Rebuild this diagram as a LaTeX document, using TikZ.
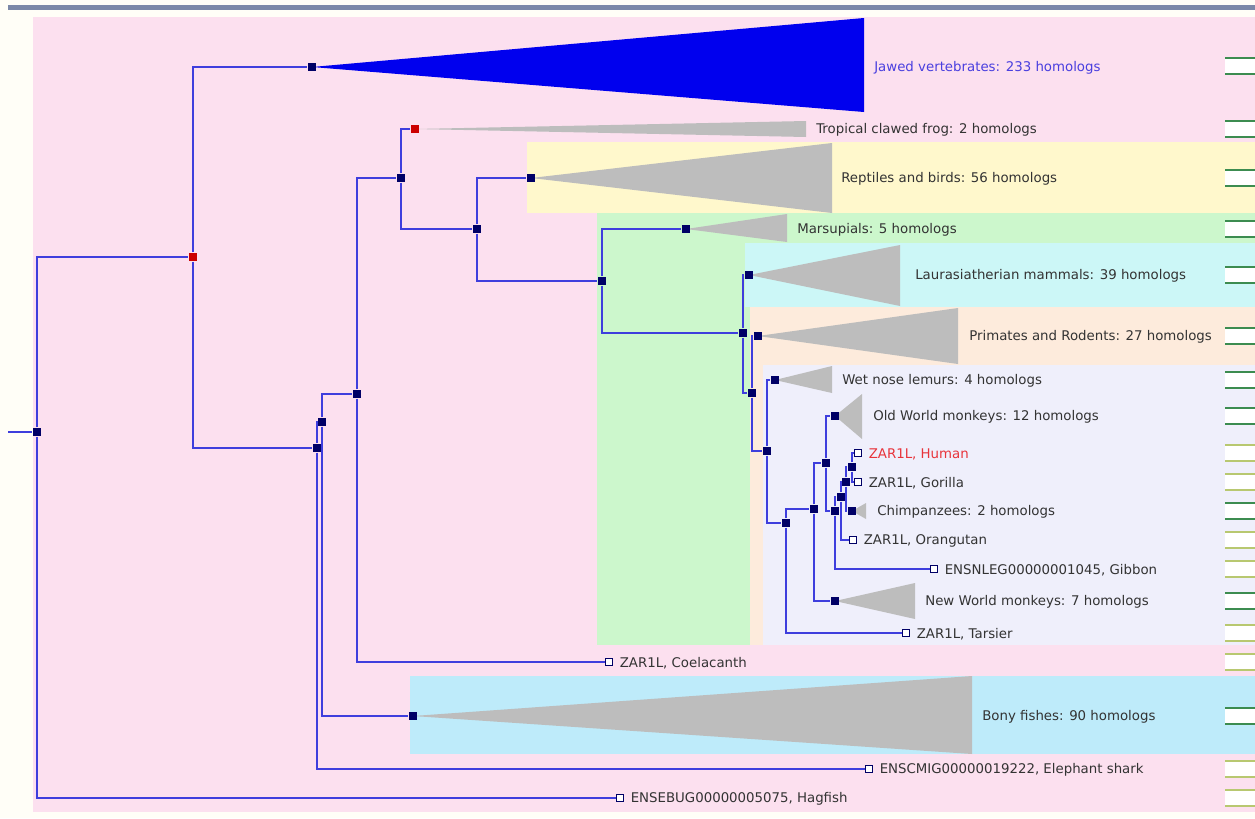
\documentclass[tikz,border=0pt]{standalone}
\usepackage{fontspec}
\setmainfont{DejaVu Sans}
\usetikzlibrary{positioning}

\definecolor{paper}{HTML}{FFFEF7}
\definecolor{topbar}{HTML}{7B88A8}
\definecolor{bandpink}{HTML}{FCE0EF}
\definecolor{bandyellow}{HTML}{FFF8CC}
\definecolor{bandgreen}{HTML}{CCF7CC}
\definecolor{bandcyan}{HTML}{CCF7F7}
\definecolor{bandpeach}{HTML}{FDEBDC}
\definecolor{bandlav}{HTML}{EFEFFB}
\definecolor{bandfish}{HTML}{BEEBFA}
\definecolor{branch}{HTML}{3E3EDD}
\definecolor{navy}{HTML}{000066}
\definecolor{dupred}{HTML}{CC0000}
\definecolor{cladegray}{HTML}{BDBDBD}
\definecolor{cladeblue}{HTML}{0000EE}
\definecolor{tiptext}{HTML}{333333}
\definecolor{bluetext}{HTML}{4A3FDF}
\definecolor{redtext}{HTML}{E8333A}
\definecolor{alndark}{HTML}{3C8C50}
\definecolor{alnlight}{HTML}{B8C870}

\pgfdeclarelayer{bands}
\pgfdeclarelayer{links}
\pgfsetlayers{bands,links,main}

\tikzset{every picture/.style={line width=0.75pt},
  inode/.style={rectangle,fill=navy,inner sep=0pt,minimum size=6.5pt},
  dnode/.style={inode,fill=dupred},
  leaf/.style={rectangle,draw=navy,fill=white,line width=0.75pt,inner sep=0pt,minimum size=5.5pt},
  link/.style={draw=branch,line width=1.2pt},
  tip/.style={text=tiptext,inner sep=0.75pt,yshift=-0.75pt,font=\fontsize{10}{12}\selectfont},
  clade/.style={fill=cladegray},
  alnrow/.style={line width=1.1pt}}

\begin{document}
\begin{tikzpicture}[x=0.75pt,y=0.75pt,yscale=-1,xscale=1]
\useasboundingbox (0,0) rectangle (1255,818);

% Background bands
\begin{pgfonlayer}{bands}
\fill[paper] (0,0) rectangle (1255,818);
\fill[topbar] (8,5) rectangle (1255,10);
\fill[bandpink] (33,17) rectangle (1255,812);
\fill[bandyellow] (527,142) rectangle (1255,213);
\fill[bandgreen] (597,213) rectangle (1255,645);
\fill[bandcyan] (745,243) rectangle (1255,307);
\fill[bandpeach] (750,307) rectangle (1255,645);
\fill[bandlav] (763,365) rectangle (1255,645);
\fill[bandfish] (410,676) rectangle (1255,754);
\end{pgfonlayer}

% Internal nodes
\node[inode] (root) at (37,432) {};
\node[dnode] (nvert) at (193,257) {};
\node[inode] (njawed) at (312,67) {};
\node[inode] (ngnath) at (317,448) {};
\node[inode] (nosteo) at (322,422) {};
\node[inode] (nsarco) at (357,394) {};
\node[inode] (ntetra) at (401,178) {};
\node[dnode] (nfrog) at (415,129) {};
\node[inode] (namnio) at (477,229) {};
\node[inode] (nsaur) at (531,178) {};
\node[inode] (nmamm) at (602,281) {};
\node[inode] (nmars) at (686,229) {};
\node[inode] (ntheria) at (743,333) {};
\node[inode] (nlaur) at (749,275) {};
\node[inode] (neuarch) at (752,393) {};
\node[inode] (nprimr) at (758,336) {};
\node[inode] (nprim) at (767,451) {};
\node[inode] (nlemur) at (775,380) {};
\node[inode] (nhaplo) at (786,523) {};
\node[inode] (nsimi) at (814,509) {};
\node[inode] (ncatar) at (826,463) {};
\node[inode] (nowm) at (835,416) {};
\node[inode] (nhom) at (835,511) {};
\node[inode] (nhomi) at (841,497) {};
\node[inode] (nhomin) at (846,482) {};
\node[inode] (nhuge) at (852,467) {};
\node[inode] (nchimp) at (852,511) {};
\node[inode] (nnwm) at (835,601) {};
\node[inode] (nbony) at (413,716) {};
\coordinate (stem) at (8,432);

% Leaves
\node[leaf] (lhuman) at (858,453) {};
\node[leaf] (lgorilla) at (858,482) {};
\node[leaf] (lorang) at (853,540) {};
\node[leaf] (lgibbon) at (934,569) {};
\node[leaf] (ltarsier) at (906,633) {};
\node[leaf] (lcoel) at (609,662) {};
\node[leaf] (lshark) at (869,769) {};
\node[leaf] (lhagfish) at (620,798) {};

% Leaf labels
\node[tip,text=redtext,right=4pt of lhuman] (thuman) {ZAR1L, Human};
\node[tip,right=4pt of lgorilla] (tgorilla) {ZAR1L, Gorilla};
\node[tip,right=4pt of lorang] (torang) {ZAR1L, Orangutan};
\node[tip,right=4pt of lgibbon] (tgibbon) {ENSNLEG00000001045, Gibbon};
\node[tip,right=4pt of ltarsier] (ttarsier) {ZAR1L, Tarsier};
\node[tip,right=4pt of lcoel] (tcoel) {ZAR1L, Coelacanth};
\node[tip,right=4pt of lshark] (tshark) {ENSCMIG00000019222, Elephant shark};
\node[tip,right=4pt of lhagfish] (thagfish) {ENSEBUG00000005075, Hagfish};

% Collapsed clade labels
\node[tip,text=bluetext,anchor=west] (tjawed) at (873,67) {Jawed vertebrates: 233 homologs};
\node[tip,anchor=west] (tfrog) at (815,129) {Tropical clawed frog: 2 homologs};
\node[tip,anchor=west] (tsaur) at (840,178) {Reptiles and birds: 56 homologs};
\node[tip,anchor=west] (tmars) at (796,229) {Marsupials: 5 homologs};
\node[tip,anchor=west] (tlaur) at (914,275) {Laurasiatherian mammals: 39 homologs};
\node[tip,anchor=west] (tprimr) at (968,336) {Primates and Rodents: 27 homologs};
\node[tip,anchor=west] (tlemur) at (841,380) {Wet nose lemurs: 4 homologs};
\node[tip,anchor=west] (towm) at (872,416) {Old World monkeys: 12 homologs};
\node[tip,anchor=west] (tchimp) at (876,511) {Chimpanzees: 2 homologs};
\node[tip,anchor=west] (tnwm) at (924,601) {New World monkeys: 7 homologs};
\node[tip,anchor=west] (tbony) at (981,716) {Bony fishes: 90 homologs};

% Collapsed clades and branches
\begin{pgfonlayer}{links}
\fill[cladeblue] (njawed.center) -- (864,18) -- (864,112) -- cycle;
\fill[clade] (nfrog.center) -- (806,121) -- (806,137) -- cycle;
\fill[clade] (nsaur.center) -- (832,143) -- (832,213) -- cycle;
\fill[clade] (nmars.center) -- (787,214) -- (787,242) -- cycle;
\fill[clade] (nlaur.center) -- (900,245) -- (900,306) -- cycle;
\fill[clade] (nprimr.center) -- (958,308) -- (958,364) -- cycle;
\fill[clade] (nlemur.center) -- (832,366) -- (832,393) -- cycle;
\fill[clade] (nowm.center) -- (862,394) -- (862,439) -- cycle;
\fill[clade] (nchimp.center) -- (866,503) -- (866,519) -- cycle;
\fill[clade] (nnwm.center) -- (915,583) -- (915,619) -- cycle;
\fill[clade] (nbony.center) -- (972,676) -- (972,754) -- cycle;

\draw[link] (stem) -- (root);
\draw[link] (root) |- (nvert);
\draw[link] (root) |- (lhagfish);
\draw[link] (nvert) |- (njawed);
\draw[link] (nvert) |- (ngnath);
\draw[link] (ngnath) |- (nosteo);
\draw[link] (ngnath) |- (lshark);
\draw[link] (nosteo) |- (nsarco);
\draw[link] (nosteo) |- (nbony);
\draw[link] (nsarco) |- (ntetra);
\draw[link] (nsarco) |- (lcoel);
\draw[link] (ntetra) |- (nfrog);
\draw[link] (ntetra) |- (namnio);
\draw[link] (namnio) |- (nsaur);
\draw[link] (namnio) |- (nmamm);
\draw[link] (nmamm) |- (nmars);
\draw[link] (nmamm) |- (ntheria);
\draw[link] (ntheria) |- (nlaur);
\draw[link] (ntheria) |- (neuarch);
\draw[link] (neuarch) |- (nprimr);
\draw[link] (neuarch) |- (nprim);
\draw[link] (nprim) |- (nlemur);
\draw[link] (nprim) |- (nhaplo);
\draw[link] (nhaplo) |- (nsimi);
\draw[link] (nhaplo) |- (ltarsier);
\draw[link] (nsimi) |- (ncatar);
\draw[link] (nsimi) |- (nnwm);
\draw[link] (ncatar) |- (nowm);
\draw[link] (ncatar) |- (nhom);
\draw[link] (nhom) |- (nhomi);
\draw[link] (nhom) |- (lgibbon);
\draw[link] (nhomi) |- (nhomin);
\draw[link] (nhomi) |- (lorang);
\draw[link] (nhomin) |- (nhuge);
\draw[link] (nhomin) |- (nchimp);
\draw[link] (nhuge) |- (lhuman);
\draw[link] (nhuge) |- (lgorilla);
\end{pgfonlayer}

% Alignment column
\foreach \y/\c in {66/alndark,129/alndark,178/alndark,229/alndark,275/alndark,336/alndark,380/alndark,416/alndark,453/alnlight,482/alnlight,511/alndark,540/alnlight,569/alnlight,601/alndark,633/alnlight,662/alnlight,716/alndark,769/alnlight,798/alnlight}{
  \fill[white] (1225,{\y-8}) rectangle (1255,{\y+8});
  \draw[alnrow,\c] (1225,{\y-8}) -- (1255,{\y-8}) (1225,{\y+8}) -- (1255,{\y+8});
}

\end{tikzpicture}
\end{document}
